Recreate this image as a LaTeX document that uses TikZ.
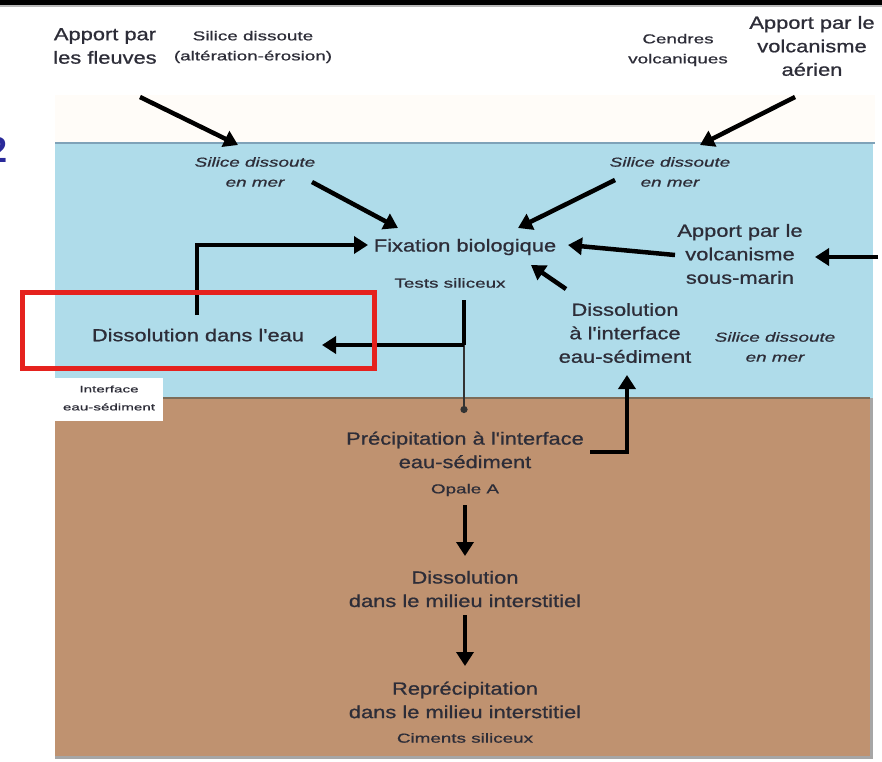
\documentclass[tikz,border=0pt]{standalone}
\usepackage{fontspec}
\setmainfont{Liberation Sans}
\newfontfamily\bigf[FakeStretch=1.25,FakeBold=0.9]{Liberation Sans}
\newfontfamily\smallf[FakeStretch=1.45,FakeBold=0.9]{Liberation Sans}
\newfontfamily\tinyf[FakeStretch=1.6,FakeBold=0.5]{Liberation Sans}
\usetikzlibrary{arrows.meta}
\definecolor{txt}{HTML}{2D2D38}
\definecolor{sea}{HTML}{AFDCEA}
\definecolor{seaedge}{HTML}{7FA2B8}
\definecolor{sed}{HTML}{BF9270}
\definecolor{ifline}{HTML}{7E6C58}
\definecolor{cream}{HTML}{FFFCF8}
\definecolor{redbox}{HTML}{E5221E}
\definecolor{blue2}{HTML}{2A2A9A}
\tikzset{
  big/.style={font=\bigf\fontsize{17.5}{23.5}\selectfont, text=txt, align=center, inner sep=0pt},
  small/.style={font=\smallf\fontsize{13}{20}\selectfont, text=txt, align=center, inner sep=0pt},
  smallit/.style={font=\smallf\itshape\fontsize{13}{20}\selectfont, text=txt, align=center, inner sep=0pt},
  tiny/.style={font=\tinyf\fontsize{9.5}{18}\selectfont, text=txt, align=center, inner sep=0pt},
  arr/.style={draw=black, line width=4.5pt, -{Triangle[length=14pt,width=17pt]}},
  thinarr/.style={draw=black!80, line width=2.5pt, -{Circle[length=7pt]}},
  plain/.style={draw=black, line width=4.5pt},
}
\begin{document}
\begin{tikzpicture}[x=1pt,y=-1pt]
\useasboundingbox (0,0) rectangle (882,761);
% background
\fill[white] (0,0) rectangle (882,761);
\fill[black] (0,0) rectangle (882,5);
\fill[gray!55] (0,5) rectangle (882,7);
\fill[cream] (55,95) rectangle (875,143);
\fill[sea] (55,143) rectangle (873,398);
\fill[sed] (55,398) rectangle (870,756);
\draw[seaedge, line width=2pt] (55,143) -- (875,143);
\draw[ifline, line width=2pt] (55,398) -- (870,398);
\draw[gray!70, line width=3pt] (871,398) -- (871,757) -- (55,757);
\node[font=\bfseries\fontsize{36}{36}\selectfont, text=blue2, inner sep=0pt] (two) at (-2,150) {2};

% texts
\node[big] (fleuves) at (105,46) {Apport par\\les fleuves};
\node[small] (silalt) at (253,47) {Silice dissoute\\(altération-érosion)};
\node[small] (cendres) at (678,50) {Cendres\\volcaniques};
\node[big] (aerien) at (812,46) {Apport par le\\volcanisme\\aérien};
\node[smallit] (sdm1) at (255,172) {Silice dissoute\\en mer};
\node[smallit] (sdm2) at (670,172) {Silice dissoute\\en mer};
\node[big] (fix) at (465,247) {Fixation biologique};
\node[small] (tests) at (450,283) {Tests siliceux};
\node[big] (sousmarin) at (740,254) {Apport par le\\volcanisme\\sous-marin};
\node[big] (dissint) at (625,333) {Dissolution\\à l'interface\\eau-sédiment};
\node[smallit] (sdm3) at (775,347) {Silice dissoute\\en mer};
\node[big] (disseau) at (198,335) {Dissolution dans l'eau};
\node[fill=white, minimum width=108pt, minimum height=43pt, inner sep=0pt] (ifacebox) at (109,399) {};
\node[tiny] (iface) at (109,398) {Interface\\eau-sédiment};
\node[big] (precip) at (465,450) {Précipitation à l'interface\\eau-sédiment};
\node[small] (opale) at (465,490) {Opale A};
\node[big] (dissmil) at (465,589) {Dissolution\\dans le milieu interstitiel};
\node[big] (reprec) at (465,700) {Reprécipitation\\dans le milieu interstitiel};
\node[small] (ciments) at (465,738) {Ciments siliceux};

% connector points
\coordinate (a1s) at (140,97);  \coordinate (a1e) at (238,145);
\coordinate (a2s) at (795,97);  \coordinate (a2e) at (700,145);
\coordinate (a3s) at (312,182); \coordinate (a3e) at (398,228);
\coordinate (a4s) at (615,180); \coordinate (a4e) at (518,228);
\coordinate (a5s) at (197,315); \coordinate (a5e) at (368,245);
\coordinate (t1) at (464,300);  \coordinate (t2) at (464,345);
\coordinate (t3) at (322,345);  \coordinate (t4) at (464,413);
\coordinate (a7s) at (675,255); \coordinate (a7e) at (568,245);
\coordinate (a8s) at (878,257); \coordinate (a8e) at (815,257);
\coordinate (a9s) at (566,289); \coordinate (a9e) at (531,265);
\coordinate (p1) at (590,452);  \coordinate (p2) at (627,452); \coordinate (p3) at (627,375);
\coordinate (d1) at (465,505);  \coordinate (d2) at (465,556);
\coordinate (d3) at (465,615);  \coordinate (d4) at (465,666);

% arrows
\draw[arr] (a1s) -- (a1e);
\draw[arr] (a2s) -- (a2e);
\draw[arr] (a3s) -- (a3e);
\draw[arr] (a4s) -- (a4e);
\draw[arr] (a5s) |- (a5e);
\draw[thinarr] (t2) -- (t4);
\draw[plain] (t1) -- (t2);
\draw[arr] (t2) -- (t3);
\draw[arr] (a7s) -- (a7e);
\draw[arr] (a8s) -- (a8e);
\draw[arr] (a9s) -- (a9e);
\draw[arr] (p1) -- (p2) -- (p3);
\draw[arr] (d1) -- (d2);
\draw[arr] (d3) -- (d4);

% red highlight box
\draw[redbox, line width=5pt] (22,292) rectangle (374,368);
\end{tikzpicture}
\end{document}
